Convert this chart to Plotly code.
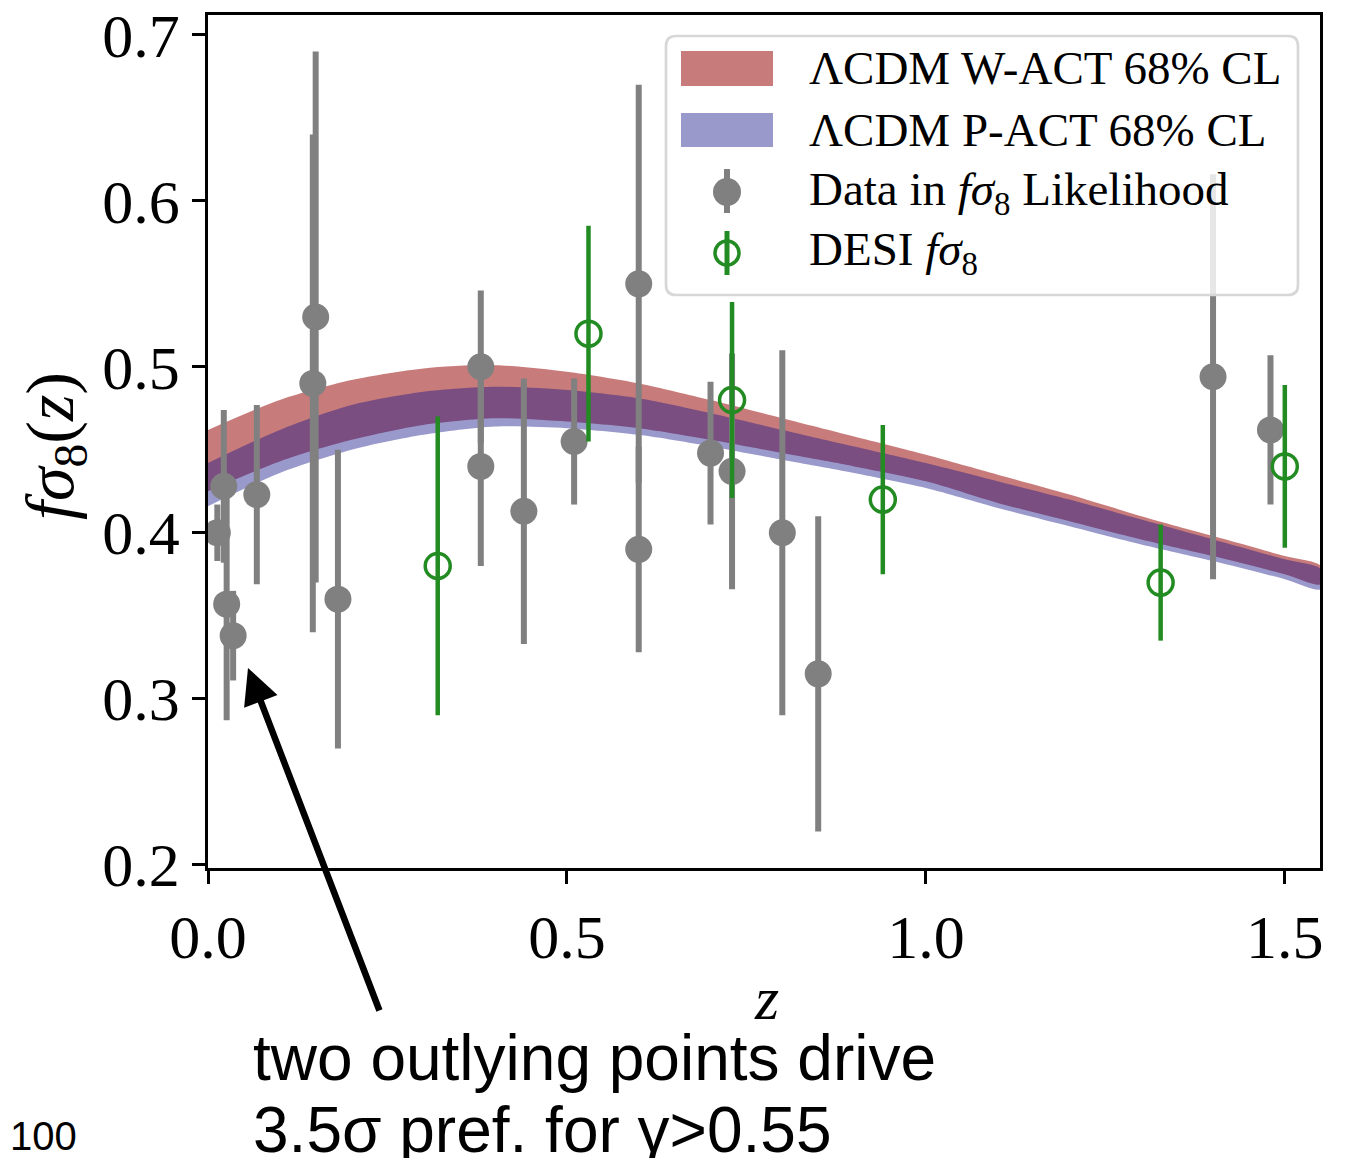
import plotly.graph_objects as go

# ---- band data ----
z_band = [0.0, 0.1, 0.2, 0.3, 0.4, 0.5, 0.6, 0.7, 0.8, 0.9, 1.0, 1.1, 1.2, 1.3, 1.4, 1.5, 1.55]
wact_upper = [0.462, 0.480, 0.492, 0.499, 0.501, 0.497, 0.490, 0.480, 0.469, 0.458, 0.447, 0.435, 0.423, 0.410, 0.398, 0.386, 0.380]
wact_lower = [0.425, 0.443, 0.456, 0.465, 0.469, 0.467, 0.463, 0.456, 0.448, 0.440, 0.431, 0.418, 0.407, 0.396, 0.386, 0.375, 0.369]
pact_upper = [0.442, 0.462, 0.477, 0.485, 0.488, 0.486, 0.481, 0.472, 0.462, 0.452, 0.442, 0.431, 0.420, 0.408, 0.396, 0.384, 0.378]
pact_lower = [0.416, 0.436, 0.450, 0.459, 0.464, 0.463, 0.459, 0.452, 0.444, 0.436, 0.427, 0.415, 0.404, 0.393, 0.383, 0.372, 0.366]

# ---- data in f sigma8 likelihood ----
data_z = [0.013, 0.022, 0.026, 0.035, 0.068, 0.146, 0.150, 0.181, 0.38, 0.38, 0.44, 0.51,
          0.60, 0.60, 0.70, 0.73, 0.80, 0.85, 1.40, 1.48]
data_fs8 = [0.400, 0.428, 0.357, 0.338, 0.423, 0.490, 0.530, 0.360, 0.500, 0.440, 0.413, 0.455,
            0.550, 0.390, 0.448, 0.437, 0.400, 0.315, 0.494, 0.462]
data_err = [0.017, 0.046, 0.070, 0.027, 0.054, 0.150, 0.160, 0.090, 0.046, 0.060, 0.080, 0.038,
            0.120, 0.062, 0.043, 0.071, 0.110, 0.095, 0.122, 0.045]

# ---- DESI ----
desi_z = [0.32, 0.53, 0.73, 0.94, 1.327, 1.50]
desi_fs8 = [0.380, 0.520, 0.480, 0.420, 0.370, 0.440]
desi_err = [0.090, 0.065, 0.059, 0.045, 0.035, 0.049]

x_ticks = [0.0, 0.5, 1.0, 1.5]
x_ticktext = ["0.0", "0.5", "1.0", "1.5"]
y_ticks = [0.2, 0.3, 0.4, 0.5, 0.6, 0.7]
y_ticktext = ["0.2", "0.3", "0.4", "0.5", "0.6", "0.7"]

legend_labels = ["ΛCDM W-ACT 68% CL", "ΛCDM P-ACT 68% CL",
                 "Data in <i>fσ</i><sub>8</sub> Likelihood", "DESI <i>fσ</i><sub>8</sub>"]

SERIF = "Liberation Serif, Times New Roman, serif"
SANS = "Liberation Sans, Arial, Helvetica, sans-serif"

RED = "rgb(200,123,123)"
BLUE_A = "rgba(20,18,136,0.43)"
GRAY = "rgb(128,128,128)"
GREEN = "rgb(34,139,34)"

# page is shown with an 8px body margin
W, H = 1329, 1150
ML, MR, MT, MB = 200, 17, 7, 290
PW, PH = W - ML - MR, H - MT - MB


def px(X):
    """page x pixel -> paper x"""
    return (X - 8 - ML) / PW


def py(Y):
    """page y pixel -> paper y"""
    return (H - MB - (Y - 8)) / PH


fig = go.Figure()

fig.add_trace(go.Scatter(
    x=z_band + z_band[::-1], y=wact_upper + wact_lower[::-1],
    fill="toself", fillcolor=RED, line=dict(width=0, shape="spline", smoothing=0.8),
    mode="lines", name=legend_labels[0], hoverinfo="skip", showlegend=False))
fig.add_trace(go.Scatter(
    x=z_band + z_band[::-1], y=pact_upper + pact_lower[::-1],
    fill="toself", fillcolor=BLUE_A, line=dict(width=0, shape="spline", smoothing=0.8),
    mode="lines", name=legend_labels[1], hoverinfo="skip", showlegend=False))

fig.add_trace(go.Scatter(
    x=data_z, y=data_fs8, mode="markers",
    marker=dict(size=27, color=GRAY),
    error_y=dict(type="data", array=data_err, color=GRAY, thickness=6, width=0),
    name=legend_labels[2], showlegend=False))

fig.add_trace(go.Scatter(
    x=desi_z, y=desi_fs8, mode="markers",
    marker=dict(size=25, color=GREEN, symbol="circle-open", line=dict(width=3.5)),
    error_y=dict(type="data", array=desi_err, color=GREEN, thickness=4.5, width=0),
    name=legend_labels[3], showlegend=False))

axis_common = dict(
    showline=True, linecolor="black", linewidth=2.7, mirror=True,
    ticks="outside", ticklen=13, tickwidth=2.7, tickcolor="black",
    showgrid=False, zeroline=False, automargin=False, ticklabeloverflow="allow",
    tickfont=dict(family=SERIF, size=62, color="black"),
)

fig.update_layout(
    width=W, height=H,
    margin=dict(l=ML, r=MR, t=MT, b=MB),
    paper_bgcolor="white", plot_bgcolor="white",
    showlegend=False,
    xaxis=dict(range=[0.0, 1.549], tickvals=x_ticks, ticktext=x_ticktext, **axis_common),
    yaxis=dict(range=[0.198, 0.712], tickvals=y_ticks, ticktext=y_ticktext, **axis_common),
)

# axis titles
fig.add_annotation(x=px(766), y=py(998), xref="paper", yref="paper", text="<i>z</i>",
                   showarrow=False, font=dict(family=SERIF, size=62, color="black"),
                   xanchor="center", yanchor="middle")
fig.add_annotation(x=px(54), y=py(446), xref="paper", yref="paper",
                   text="<i>fσ</i><sub>8</sub>(<i>z</i>)", textangle=-90,
                   showarrow=False, font=dict(family=SERIF, size=68, color="black"),
                   xanchor="center", yanchor="middle")

# ---- manual legend ----
bx0, bx1, by0, by1, r = px(666), px(1298), py(36), py(295), 10
rx, ry = r / PW, r / PH
path = (f"M{bx0 + rx},{by0} L{bx1 - rx},{by0} Q{bx1},{by0} {bx1},{by0 - ry} "
        f"L{bx1},{by1 + ry} Q{bx1},{by1} {bx1 - rx},{by1} L{bx0 + rx},{by1} "
        f"Q{bx0},{by1} {bx0},{by1 + ry} L{bx0},{by0 - ry} Q{bx0},{by0} {bx0 + rx},{by0} Z")
fig.add_shape(type="path", path=path, xref="paper", yref="paper",
              fillcolor="rgba(255,255,255,0.8)", line=dict(color="rgb(215,215,215)", width=2.7),
              layer="above")

rows = [68, 130, 192, 253]
fig.add_shape(type="rect", xref="paper", yref="paper", x0=px(681), x1=px(773), y0=py(51), y1=py(86),
              fillcolor=RED, line=dict(width=0), layer="above")
fig.add_shape(type="rect", xref="paper", yref="paper", x0=px(681), x1=px(773), y0=py(113), y1=py(147),
              fillcolor="white", line=dict(width=0), layer="above")
fig.add_shape(type="rect", xref="paper", yref="paper", x0=px(681), x1=px(773), y0=py(113), y1=py(147),
              fillcolor=BLUE_A, line=dict(width=0), layer="above")
# gray errorbar symbol
fig.add_shape(type="line", xref="paper", yref="paper", x0=px(727), x1=px(727), y0=py(169), y1=py(213),
              line=dict(color=GRAY, width=6), layer="above")
fig.add_shape(type="circle", xref="paper", yref="paper", x0=px(713), x1=px(741), y0=py(178), y1=py(206),
              fillcolor=GRAY, line=dict(width=0), layer="above")
# green errorbar symbol
fig.add_shape(type="line", xref="paper", yref="paper", x0=px(727), x1=px(727), y0=py(231), y1=py(275),
              line=dict(color=GREEN, width=5), layer="above")
fig.add_shape(type="circle", xref="paper", yref="paper", x0=px(715), x1=px(739), y0=py(241), y1=py(265),
              fillcolor="rgba(0,0,0,0)", line=dict(color=GREEN, width=3.5), layer="above")

for lab, ry_ in zip(legend_labels, rows):
    fig.add_annotation(x=px(807), y=py(ry_), xref="paper", yref="paper", text=lab,
                       showarrow=False, xanchor="left", yanchor="middle",
                       font=dict(family=SERIF, size=47, color="black"))

# arrow
fig.add_annotation(
    x=px(248), y=py(668), xref="paper", yref="paper",
    ax=132, ay=344, axref="pixel", ayref="pixel",
    showarrow=True, arrowhead=2, arrowsize=1.1, arrowwidth=6.5, arrowcolor="black", text="")

fig.add_annotation(
    x=px(251), y=py(1058), xref="paper", yref="paper", xanchor="left", yanchor="middle",
    text="two outlying points drive", showarrow=False,
    font=dict(family=SANS, size=64, color="black"))
fig.add_annotation(
    x=px(251), y=py(1130), xref="paper", yref="paper", xanchor="left", yanchor="middle",
    text="3.5σ pref. for γ>0.55", showarrow=False,
    font=dict(family=SANS, size=64, color="black"))

fig.add_annotation(
    x=px(8), y=py(1136), xref="paper", yref="paper", xanchor="left", yanchor="middle",
    text="100", showarrow=False, font=dict(family=SANS, size=40, color="black"))

fig.write_html("out.html")
